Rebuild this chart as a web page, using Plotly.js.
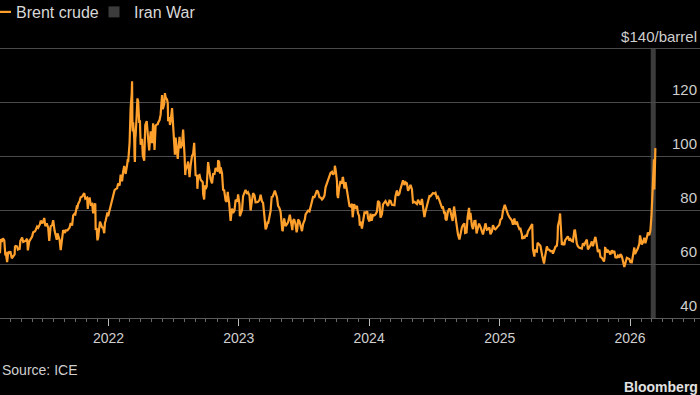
<!DOCTYPE html>
<html>
<head>
<meta charset="utf-8">
<script src="https://cdn.plot.ly/plotly-3.0.1.min.js"></script>
<style>
html,body{margin:0;padding:0;background:#000;}
#chart{width:700px;height:395px;}
</style>
</head>
<body>
<div id="chart"></div>
<script>
// ---- Data (Brent crude, $/barrel) ----
const brentDates = [
"2021-03-03","2021-03-05","2021-03-08","2021-03-11","2021-03-15","2021-03-18","2021-03-19","2021-03-23","2021-03-24","2021-03-26","2021-03-30",
"2021-04-01","2021-04-05","2021-04-09","2021-04-13","2021-04-14","2021-04-16","2021-04-20","2021-04-22","2021-04-27","2021-04-29",
"2021-05-04","2021-05-07","2021-05-11","2021-05-14","2021-05-18","2021-05-20","2021-05-24","2021-05-28",
"2021-06-01","2021-06-04","2021-06-09","2021-06-11","2021-06-15","2021-06-18","2021-06-23","2021-06-25","2021-06-30",
"2021-07-05","2021-07-08","2021-07-12","2021-07-16","2021-07-19","2021-07-21","2021-07-23","2021-07-27","2021-07-30",
"2021-08-03","2021-08-06","2021-08-09","2021-08-11","2021-08-13","2021-08-17","2021-08-20","2021-08-23","2021-08-25","2021-08-27",
"2021-09-01","2021-09-03","2021-09-08","2021-09-10","2021-09-14","2021-09-17","2021-09-21","2021-09-24","2021-09-28","2021-09-30",
"2021-10-04","2021-10-06","2021-10-08","2021-10-12","2021-10-15","2021-10-19","2021-10-22","2021-10-25","2021-10-28","2021-10-29",
"2021-11-02","2021-11-04","2021-11-05","2021-11-09","2021-11-12","2021-11-16","2021-11-19","2021-11-23","2021-11-25","2021-11-26","2021-11-29","2021-11-30",
"2021-12-01","2021-12-03","2021-12-06","2021-12-08","2021-12-10","2021-12-14","2021-12-17","2021-12-20","2021-12-22","2021-12-24","2021-12-29","2021-12-31",
"2022-01-04","2022-01-07","2022-01-11","2022-01-14","2022-01-18","2022-01-21","2022-01-25","2022-01-28",
"2022-02-01","2022-02-04","2022-02-08","2022-02-11","2022-02-14","2022-02-16","2022-02-18","2022-02-22","2022-02-24","2022-02-25",
"2022-03-01","2022-03-02","2022-03-03","2022-03-04","2022-03-07","2022-03-08","2022-03-09","2022-03-10","2022-03-11","2022-03-14","2022-03-15","2022-03-16","2022-03-17","2022-03-18","2022-03-21","2022-03-23","2022-03-25","2022-03-28","2022-03-30",
"2022-04-01","2022-04-05","2022-04-07","2022-04-11","2022-04-12","2022-04-14","2022-04-18","2022-04-20","2022-04-22","2022-04-25","2022-04-28","2022-04-29",
"2022-05-03","2022-05-05","2022-05-06","2022-05-10","2022-05-11","2022-05-13","2022-05-17","2022-05-19","2022-05-20","2022-05-24","2022-05-27","2022-05-31",
"2022-06-02","2022-06-06","2022-06-08","2022-06-10","2022-06-14","2022-06-16","2022-06-17","2022-06-21","2022-06-22","2022-06-24","2022-06-28","2022-06-29",
"2022-07-01","2022-07-05","2022-07-06","2022-07-08","2022-07-12","2022-07-14","2022-07-15","2022-07-19","2022-07-21","2022-07-22","2022-07-26","2022-07-29",
"2022-08-02","2022-08-04","2022-08-05","2022-08-09","2022-08-12","2022-08-16","2022-08-18","2022-08-19","2022-08-23","2022-08-26","2022-08-29","2022-08-31",
"2022-09-02","2022-09-06","2022-09-07","2022-09-09","2022-09-13","2022-09-16","2022-09-20","2022-09-22","2022-09-23","2022-09-26","2022-09-28","2022-09-30",
"2022-10-03","2022-10-05","2022-10-07","2022-10-11","2022-10-14","2022-10-18","2022-10-21","2022-10-25","2022-10-28","2022-10-31",
"2022-11-03","2022-11-04","2022-11-07","2022-11-10","2022-11-11","2022-11-15","2022-11-18","2022-11-21","2022-11-23","2022-11-25","2022-11-28",
"2022-12-01","2022-12-02","2022-12-05","2022-12-07","2022-12-09","2022-12-13","2022-12-16","2022-12-20","2022-12-23","2022-12-28","2022-12-30",
"2023-01-03","2023-01-04","2023-01-06","2023-01-10","2023-01-13","2023-01-17","2023-01-20","2023-01-24","2023-01-27","2023-01-31",
"2023-02-03","2023-02-07","2023-02-10","2023-02-14","2023-02-17","2023-02-21","2023-02-24","2023-02-28",
"2023-03-03","2023-03-07","2023-03-10","2023-03-14","2023-03-15","2023-03-17","2023-03-20","2023-03-23","2023-03-24","2023-03-28","2023-03-31",
"2023-04-03","2023-04-06","2023-04-12","2023-04-14","2023-04-18","2023-04-21","2023-04-25","2023-04-28",
"2023-05-02","2023-05-03","2023-05-04","2023-05-08","2023-05-12","2023-05-16","2023-05-19","2023-05-24","2023-05-26","2023-05-31",
"2023-06-02","2023-06-05","2023-06-09","2023-06-12","2023-06-14","2023-06-16","2023-06-20","2023-06-23","2023-06-27","2023-06-30",
"2023-07-05","2023-07-07","2023-07-11","2023-07-14","2023-07-18","2023-07-21","2023-07-25","2023-07-28",
"2023-08-01","2023-08-04","2023-08-08","2023-08-11","2023-08-15","2023-08-18","2023-08-22","2023-08-25","2023-08-29",
"2023-09-01","2023-09-05","2023-09-08","2023-09-12","2023-09-15","2023-09-19","2023-09-22","2023-09-26","2023-09-27","2023-09-29",
"2023-10-03","2023-10-04","2023-10-06","2023-10-09","2023-10-13","2023-10-17","2023-10-19","2023-10-20","2023-10-24","2023-10-27","2023-10-31",
"2023-11-03","2023-11-07","2023-11-10","2023-11-14","2023-11-16","2023-11-20","2023-11-24","2023-11-28",
"2023-12-01","2023-12-04","2023-12-06","2023-12-08","2023-12-12","2023-12-15","2023-12-19","2023-12-22","2023-12-27","2023-12-29",
"2024-01-02","2024-01-05","2024-01-08","2024-01-12","2024-01-16","2024-01-19","2024-01-23","2024-01-26","2024-01-30",
"2024-02-02","2024-02-06","2024-02-09","2024-02-13","2024-02-16","2024-02-20","2024-02-23","2024-02-27",
"2024-03-01","2024-03-05","2024-03-08","2024-03-12","2024-03-15","2024-03-19","2024-03-22","2024-03-26","2024-03-28",
"2024-04-02","2024-04-05","2024-04-09","2024-04-12","2024-04-16","2024-04-17","2024-04-19","2024-04-23","2024-04-26","2024-04-30",
"2024-05-01","2024-05-03","2024-05-07","2024-05-10","2024-05-14","2024-05-17","2024-05-21","2024-05-24","2024-05-28","2024-05-31",
"2024-06-03","2024-06-04","2024-06-07","2024-06-11","2024-06-14","2024-06-18","2024-06-21","2024-06-25","2024-06-28",
"2024-07-02","2024-07-05","2024-07-09","2024-07-12","2024-07-16","2024-07-19","2024-07-23","2024-07-26","2024-07-30",
"2024-08-01","2024-08-02","2024-08-05","2024-08-07","2024-08-09","2024-08-13","2024-08-16","2024-08-20","2024-08-22","2024-08-26","2024-08-30",
"2024-09-03","2024-09-06","2024-09-10","2024-09-13","2024-09-17","2024-09-20","2024-09-24","2024-09-26","2024-09-30",
"2024-10-03","2024-10-07","2024-10-09","2024-10-11","2024-10-15","2024-10-18","2024-10-22","2024-10-25","2024-10-28","2024-10-31",
"2024-11-04","2024-11-08","2024-11-12","2024-11-15","2024-11-19","2024-11-22","2024-11-26","2024-11-29",
"2024-12-03","2024-12-06","2024-12-10","2024-12-13","2024-12-17","2024-12-20","2024-12-24","2024-12-27","2024-12-31",
"2025-01-03","2025-01-07","2025-01-10","2025-01-13","2025-01-15","2025-01-17","2025-01-21","2025-01-24","2025-01-28","2025-01-31",
"2025-02-04","2025-02-07","2025-02-11","2025-02-14","2025-02-18","2025-02-21","2025-02-25","2025-02-28",
"2025-03-04","2025-03-05","2025-03-07","2025-03-11","2025-03-14","2025-03-18","2025-03-21","2025-03-25","2025-03-28",
"2025-04-02","2025-04-03","2025-04-04","2025-04-08","2025-04-09","2025-04-11","2025-04-15","2025-04-17","2025-04-22","2025-04-25","2025-04-30",
"2025-05-02","2025-05-05","2025-05-08","2025-05-13","2025-05-16","2025-05-20","2025-05-23","2025-05-28","2025-05-30",
"2025-06-03","2025-06-06","2025-06-10","2025-06-12","2025-06-13","2025-06-17","2025-06-19","2025-06-20","2025-06-23","2025-06-24","2025-06-27",
"2025-07-01","2025-07-03","2025-07-08","2025-07-11","2025-07-15","2025-07-18","2025-07-22","2025-07-25","2025-07-29","2025-07-31",
"2025-08-05","2025-08-08","2025-08-12","2025-08-15","2025-08-19","2025-08-22","2025-08-26","2025-08-29",
"2025-09-02","2025-09-05","2025-09-09","2025-09-12","2025-09-16","2025-09-19","2025-09-24","2025-09-26","2025-09-30",
"2025-10-03","2025-10-07","2025-10-10","2025-10-14","2025-10-20","2025-10-22","2025-10-23","2025-10-24","2025-10-28","2025-10-31",
"2025-11-04","2025-11-07","2025-11-11","2025-11-14","2025-11-18","2025-11-21","2025-11-25","2025-11-28",
"2025-12-02","2025-12-05","2025-12-09","2025-12-12","2025-12-16","2025-12-19","2025-12-23","2025-12-30",
"2026-01-02","2026-01-06","2026-01-09","2026-01-13","2026-01-15","2026-01-20","2026-01-23","2026-01-27","2026-01-29",
"2026-02-03","2026-02-06","2026-02-10","2026-02-13","2026-02-18","2026-02-20","2026-02-24","2026-02-27",
"2026-03-02","2026-03-03","2026-03-04","2026-03-05","2026-03-06","2026-03-09","2026-03-10","2026-03-11","2026-03-12","2026-03-13"
];
const brentPrices = [
64.07,69.36,68.24,69.63,68.88,63.28,64.53,60.79,64.41,64.57,64.14,
64.86,62.15,62.95,63.67,66.58,66.77,66.57,65.40,65.65,68.56,
69.88,68.28,68.55,68.71,69.46,65.11,68.46,69.63,
70.25,71.89,72.22,72.69,73.99,73.51,74.87,76.18,75.13,
77.16,74.12,75.16,73.59,68.62,72.23,74.10,74.48,76.33,
72.41,70.70,69.04,71.44,70.59,69.03,65.18,68.75,72.25,72.70,
71.59,72.61,72.60,72.92,73.60,75.34,74.36,78.09,78.72,78.52,
81.26,81.08,82.39,83.42,84.86,85.08,85.53,86.40,84.32,84.38,
84.72,80.54,82.74,84.78,82.17,82.43,78.89,82.31,82.22,72.72,73.44,70.57,
68.87,69.88,73.08,75.82,75.15,73.70,73.52,71.52,75.29,76.14,79.23,77.78,
80.00,81.75,83.72,86.06,87.51,87.89,88.20,90.03,
89.16,93.27,90.78,94.44,96.48,94.81,93.54,96.84,99.08,97.93,
104.97,112.93,110.46,118.11,123.21,127.98,111.14,109.33,112.67,106.90,99.91,98.02,106.64,107.93,115.62,121.60,120.65,112.48,113.45,
104.39,106.64,100.58,98.48,104.64,111.70,113.16,106.80,106.65,102.32,107.59,109.34,
104.97,111.90,112.39,102.46,107.51,111.55,111.93,112.04,112.55,113.56,115.56,122.84,
117.61,119.51,123.58,122.01,121.17,119.81,113.12,114.65,111.74,113.12,117.98,116.26,
111.63,102.77,100.69,107.02,99.49,99.10,101.16,107.35,103.86,103.20,104.40,110.01,
100.54,93.12,94.92,96.31,98.15,92.34,96.59,96.72,100.22,100.99,105.09,96.49,
93.02,92.83,88.00,92.84,93.17,91.35,90.62,90.46,86.15,84.06,89.32,87.96,
88.86,93.37,97.92,94.29,91.63,90.03,93.50,93.52,95.77,94.83,
94.67,98.57,97.92,93.67,95.99,93.86,87.62,87.45,85.41,83.63,83.19,
86.88,85.57,82.68,77.17,76.10,80.68,79.04,79.99,83.92,83.26,85.91,
82.10,77.84,78.57,80.10,85.28,86.92,87.63,86.13,86.66,85.46,
79.94,83.69,86.39,85.58,83.00,83.05,83.16,83.89,
85.83,83.29,82.78,77.45,73.69,72.97,73.79,75.91,74.99,78.65,79.77,
84.93,85.12,87.33,86.31,84.77,81.66,80.77,79.54,
75.32,72.33,72.50,77.01,74.17,74.91,75.58,78.36,76.95,72.66,
76.13,76.71,74.79,71.84,73.20,76.61,75.90,73.85,72.26,74.90,
76.65,78.47,79.40,79.87,79.63,81.07,83.64,84.99,
84.91,86.24,87.42,86.81,84.89,84.80,84.03,84.48,85.49,
88.55,90.04,90.65,92.06,93.93,94.34,93.27,93.96,96.55,95.31,
90.92,85.81,84.58,88.15,90.89,89.90,92.38,92.16,88.07,90.48,87.41,
84.89,81.61,81.43,82.47,77.42,82.32,80.58,81.68,
78.88,78.03,74.30,75.84,73.24,76.55,79.23,79.07,79.65,77.04,
75.89,78.76,76.12,78.29,78.15,78.56,79.55,83.55,82.87,
77.33,78.59,82.19,82.77,83.47,82.34,81.62,83.65,
83.55,82.04,82.08,81.92,85.34,87.38,85.43,86.25,87.48,
89.92,91.17,89.42,90.45,90.02,87.29,87.29,88.42,89.50,87.86,
83.44,82.96,83.16,82.79,82.38,83.98,82.88,82.12,84.22,81.62,
78.36,77.52,79.62,81.92,82.62,85.33,85.24,86.01,86.41,
86.24,86.54,84.66,85.03,83.73,82.63,81.01,81.13,78.63,
79.52,76.81,76.30,78.33,79.66,80.69,79.68,77.20,76.05,81.43,76.93,
73.75,71.06,69.19,71.61,73.70,74.49,75.17,71.60,71.77,
77.62,80.93,76.58,79.04,74.25,73.06,76.04,76.05,71.42,73.16,
75.08,73.87,71.89,71.04,73.31,75.17,72.81,72.94,
73.62,71.12,72.19,74.49,73.19,72.94,73.58,74.17,74.64,
76.51,77.05,79.76,81.01,82.03,81.29,79.29,78.50,77.49,76.76,
76.20,74.66,77.00,74.74,75.84,74.43,73.02,73.18,
71.04,69.30,70.36,69.56,70.58,70.56,72.16,73.02,73.63,
74.95,70.14,65.58,62.82,65.48,64.76,64.67,67.96,67.44,66.87,63.12,
61.29,60.23,62.84,66.63,65.41,65.38,64.78,64.90,63.90,
65.63,66.47,66.87,69.36,74.23,76.45,78.85,77.01,71.48,67.14,67.77,
67.11,68.80,70.15,70.36,68.71,69.28,68.59,68.44,72.51,72.53,
67.64,66.59,66.12,65.85,65.79,67.73,67.22,68.12,
69.14,65.50,66.39,66.99,68.47,66.68,69.31,70.13,67.02,
64.53,65.45,62.73,62.39,61.01,62.59,65.99,65.94,64.40,65.07,
64.44,63.63,65.16,64.39,64.89,62.56,62.48,63.20,
62.45,63.75,62.94,61.12,58.92,60.47,62.38,61.92,
60.75,60.70,63.34,66.20,63.76,64.92,65.88,67.57,70.71,
67.33,68.05,69.80,67.75,70.35,71.76,70.77,72.48,
77.74,81.40,81.40,85.41,92.69,98.96,87.80,91.98,100.46,103.14
];

// Event band
const warLabel = "Iran War";
const warStart = "2026-02-28";
const warEnd = "2026-03-14";

// Axes
const xRange = ["2021-03-03", "2026-07-16"];
const yRange = [40, 150];
const yTickVals = [40, 60, 80, 100, 120, 140];
const yTickText = ["40", "60", "80", "100", "120", "$140/barrel"];

const FONT = "Liberation Sans, Arial, sans-serif";
const TXT = "#cfcfcf";
const ORANGE = "#ff9f2c";
const BAND = "#3c3c3c";

const traces = [
  {
    type: "scatter", mode: "lines", name: "Brent crude",
    x: brentDates, y: brentPrices,
    line: {color: ORANGE, width: 2.2},
    legend: "legend", hoverinfo: "skip"
  },
  {
    type: "scatter", mode: "markers", name: warLabel,
    x: [null], y: [null],
    marker: {symbol: "square", color: BAND, size: 11},
    legend: "legend2", hoverinfo: "skip"
  }
];

const PH = 296; // plot height in px (395 - 22 - 77)
const layout = {
  width: 700, height: 395,
  paper_bgcolor: "#000", plot_bgcolor: "#000",
  margin: {l: 0, r: 0, t: 22, b: 77, pad: 0, autoexpand: false},
  font: {family: FONT, color: TXT, size: 15},
  showlegend: true,
  legend: {
    x: -24/700, xanchor: "left", y: 1 + 10/PH, yanchor: "middle",
    orientation: "h", bgcolor: "rgba(0,0,0,0)",
    font: {family: FONT, size: 16, color: "#d8d8d8"}
  },
  legend2: {
    x: 94/700, xanchor: "left", y: 1 + 10/PH, yanchor: "middle",
    orientation: "h", bgcolor: "rgba(0,0,0,0)",
    font: {family: FONT, size: 16, color: "#d8d8d8"}
  },
  xaxis: {
    type: "date", range: xRange,
    showgrid: false, zeroline: false,
    showline: true, linecolor: "#5a5a5a", linewidth: 1,
    ticks: "outside", ticklen: 7, tickwidth: 1, tickcolor: "#bbbbbb",
    dtick: "M12", tick0: "2022-01-01", tickformat: "%Y",
    tickfont: {family: FONT, size: 14, color: TXT},
    minor: {ticks: "outside", ticklen: 3, tickwidth: 1, tickcolor: "#6a6a6a", dtick: "M1", tick0: "2022-01-01", showgrid: false},
    fixedrange: true
  },
  yaxis: {
    range: yRange, side: "left", anchor: "free", position: 1,
    tickmode: "array", tickvals: yTickVals, ticktext: yTickText,
    ticklabelposition: "outside top",
    ticklabelstandoff: 3, ticklabelshift: -2,
    showgrid: true, gridcolor: "#4a4a4a", gridwidth: 1,
    zeroline: false, showline: false, ticks: "",
    tickfont: {family: FONT, size: 15, color: TXT},
    automargin: false,
    fixedrange: true
  },
  shapes: [
    {type: "rect", xref: "x", yref: "y", x0: warStart, x1: warEnd, y0: 40, y1: 140,
     fillcolor: BAND, line: {width: 0}, layer: "below"}
  ],
  annotations: [
    {text: "Source: ICE", xref: "paper", yref: "paper", x: 0, y: -52/PH,
     xanchor: "left", yanchor: "middle", showarrow: false,
     font: {family: FONT, size: 14, color: TXT}},
    {text: "<b>Bloomberg</b>", xref: "paper", yref: "paper", x: 1, y: -69/PH,
     xanchor: "right", yanchor: "middle", showarrow: false,
     font: {family: FONT, size: 14, color: "#e0e0e0"}}
  ]
};

Plotly.newPlot("chart", traces, layout, {displayModeBar: false, staticPlot: true});
</script>
</body>
</html>
